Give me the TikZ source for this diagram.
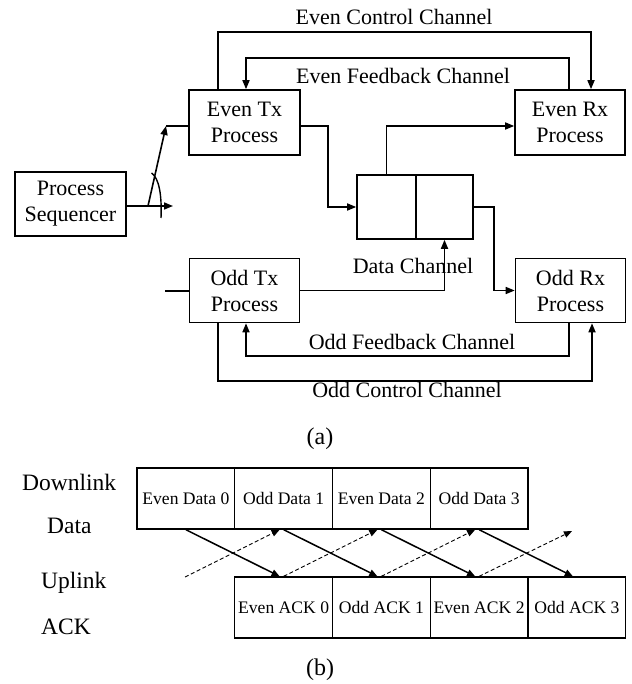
\documentclass[tikz,border=0pt]{standalone}
\usepackage{fontspec}
\setmainfont{Liberation Serif}
\usetikzlibrary{arrows.meta,calc}
\begin{document}
\begin{tikzpicture}[x=1pt,y=-1pt,
  font=\fontsize{22}{26}\selectfont,
  box/.style={draw,line width=1.6pt,minimum width=110pt,minimum height=64pt,
    align=center,inner sep=0pt},
  cell/.style={draw,line width=1.4pt,minimum width=97.75pt,minimum height=61pt,
    inner sep=0pt,font=\fontsize{17.6}{20}\selectfont},
  link/.style={line width=1.6pt},
  arr/.style={link,-{Triangle[length=9pt,width=7pt]}},
  sarr/.style={line width=1.5pt,-{Triangle[length=8pt,width=6.5pt]}},
  darr/.style={line width=0.9pt,dash pattern=on 4pt off 2.5pt,-{Triangle[length=8pt,width=6.5pt]}},
  lbl/.style={inner sep=0pt},
  side/.style={lbl,anchor=west,font=\fontsize{23.5}{28}\selectfont},
  caption/.style={lbl,font=\fontsize{24}{28}\selectfont}
]
\useasboundingbox (0,0) rectangle (631,684);

% ---------- (a) process structure ----------
\node[box,minimum width=111pt] (ps) at (70.5,204) {Process\\Sequencer};
\node[box,minimum width=111pt,minimum height=65pt] (etx) at (244.5,122.5) {Even Tx\\Process};
\node[box,minimum height=65pt] (erx) at (570,122.5) {Even Rx\\Process};
\node[box] (otx) at (244.5,290.5) {Odd Tx\\Process};
\node[box] (orx) at (570.5,290.5) {Odd Rx\\Process};
\node[box,minimum width=59pt] (dc1) at (386.5,207) {};
\node[box,minimum width=57pt] (dc2) at (444.5,207) {};

\node[lbl] (ecl) at (394,17) {Even Control Channel};
\node[lbl] (efl) at (403,76) {Even Feedback Channel};
\node[lbl] (dcl) at (413,266) {Data Channel};
\node[lbl] (ofl) at (412,342) {Odd Feedback Channel};
\node[lbl] (ocl) at (407,390) {Odd Control Channel};
\node[caption] (capa) at (320,439) {(a)};

% control and feedback loops
\draw[arr] ([xshift=-26.5pt]etx.north) -- ++(0,-57) -| ([xshift=21pt]erx.north);
\draw[arr] ([xshift=-1pt]erx.north) -- ++(0,-31) -| ([xshift=1.5pt]etx.north);
\draw[arr] ([xshift=-1.5pt]orx.south) -- ++(0,32.5) -| ([xshift=1.5pt]otx.south);
\draw[arr] ([xshift=-26.5pt]otx.south) -- ++(0,57.5) -| ([xshift=21.5pt]orx.south);

% data channel paths
\draw[arr] ([yshift=-3.5pt]etx.east) -- ++(27,0) |- (dc1.west);
\draw[arr] (dc1.north) |- ([yshift=-3.5pt]erx.west);
\draw[arr] (dc2.east) -- ++(20,0) |- (orx.west);
\draw[arr] (otx.east) -| (dc2.south);

% sequencer switch
\coordinate (seqout) at (173,206);
\coordinate (pivot) at (148,206);
\coordinate (swtip) at (166,126);
\coordinate (oin) at (165,291);
\draw[arr] (ps.east |- seqout) -- (seqout);
\draw[arr] (pivot) -- (swtip);
\draw[link] (swtip) -- (swtip -| etx.west);
\draw[line width=1.4pt] (151.5,173) .. controls (159,178) and (162,195) .. (161,218);
\draw[link] (oin) -- (oin -| otx.west);

% ---------- (b) timing ----------
\node[side] (dl) at (22,482) {Downlink};
\node[side] (dd) at (47,526) {Data};
\node[side] (ul) at (41,583) {Uplink};
\node[side] (ua) at (41,627) {ACK};

\node[cell] (d0) at (185.875,498.5) {Even Data 0};
\node[cell] (d1) at (283.625,498.5) {Odd Data 1};
\node[cell] (d2) at (381.375,498.5) {Even Data 2};
\node[cell] (d3) at (479.125,498.5) {Odd Data 3};

\node[cell] (a0) at (283.625,607.5) {Even ACK 0};
\node[cell] (a1) at (381.375,607.5) {Odd ACK 1};
\node[cell] (a2) at (479.125,607.5) {Even ACK 2};
\node[cell] (a3) at (576.875,607.5) {Odd ACK 3};

\draw[sarr] (d0.south) -- ([xshift=-4pt]a0.north);
\draw[sarr] (d1.south) -- ([xshift=-4pt]a1.north);
\draw[sarr] (d2.south) -- ([xshift=-4pt]a2.north);
\draw[sarr] (d3.south) -- ([xshift=-4pt]a3.north);

\coordinate (ackin) at (185,577);
\coordinate (ackout) at (572,531);
\draw[darr] (ackin) -- ([xshift=-4pt]d1.south);
\draw[darr] (a0.north) -- ([xshift=-4pt]d2.south);
\draw[darr] (a1.north) -- ([xshift=-4pt]d3.south);
\draw[darr] (a2.north) -- (ackout);

\node[caption] (capb) at (320,670) {(b)};
\end{tikzpicture}
\end{document}
